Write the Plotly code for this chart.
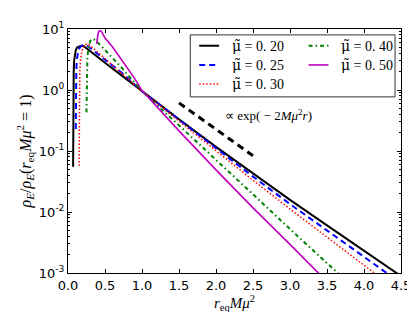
import plotly.graph_objects as go

# ---- data ----
r_020 = [0.069, 0.0705, 0.073, 0.077, 0.083, 0.092, 0.105, 0.125, 0.15, 0.18, 0.21, 0.25, 0.35, 0.5, 0.75, 1.0, 1.5, 2.0, 2.5, 3.0, 3.5, 4.0, 4.5]
rho_020 = [0.055, 0.3, 1.0, 2.0, 3.0, 3.9, 4.5, 5.0, 5.2, 5.3, 5.25, 4.8, 3.9, 2.79, 1.64, 0.955, 0.331, 0.117, 0.0427, 0.0158, 0.00603, 0.00234, 0.00089]

r_025 = [0.105, 0.106, 0.108, 0.112, 0.118, 0.128, 0.14, 0.16, 0.19, 0.22, 0.26, 0.35, 0.5, 0.75, 1.0, 1.5, 2.0, 2.5, 3.0, 3.5, 4.0, 4.4]
rho_025 = [0.23, 0.6, 1.2, 2.0, 3.0, 3.9, 4.5, 5.0, 5.35, 5.45, 5.3, 4.37, 3.16, 1.82, 0.955, 0.324, 0.110, 0.038, 0.0135, 0.0050, 0.00186, 0.00083]

r_030 = [0.15, 0.152, 0.155, 0.16, 0.167, 0.178, 0.195, 0.22, 0.25, 0.28, 0.35, 0.5, 0.75, 1.0, 1.5, 2.0, 2.5, 3.0, 3.5, 4.0, 4.25]
rho_030 = [0.057, 0.3, 1.0, 2.0, 3.0, 4.0, 4.8, 5.4, 5.65, 5.6, 4.71, 3.26, 1.77, 0.955, 0.309, 0.1, 0.0331, 0.0112, 0.00389, 0.00135, 0.00079]

r_040 = [0.249, 0.251, 0.255, 0.262, 0.272, 0.285, 0.30, 0.32, 0.34, 0.37, 0.45, 0.5, 0.6, 0.7, 0.8, 0.9, 1.0, 1.5, 2.0, 2.5, 3.0, 3.5, 3.75]
rho_040 = [0.43, 1.2, 2.2, 3.3, 4.5, 5.6, 6.3, 6.8, 6.85, 6.6, 5.25, 4.57, 3.39, 2.51, 1.82, 1.32, 0.955, 0.263, 0.0724, 0.0195, 0.00525, 0.00145, 0.00076]

r_050 = [0.387, 0.395, 0.405, 0.415, 0.43, 0.45, 0.5, 0.6, 0.7, 0.8, 0.9, 1.0, 1.25, 1.5, 2.0, 2.5, 3.0, 3.5]
rho_050 = [5.7, 7.0, 8.2, 9.0, 9.4, 9.2, 7.1, 5.13, 3.47, 2.34, 1.55, 0.977, 0.457, 0.214, 0.049, 0.0117, 0.00295, 0.00072]

ref_r = [1.5, 2.5]
ref_rho = [0.615, 0.0835]

x_ticks = [0.0, 0.5, 1.0, 1.5, 2.0, 2.5, 3.0, 3.5, 4.0, 4.5]
x_tick_text = ["0.0", "0.5", "1.0", "1.5", "2.0", "2.5", "3.0", "3.5", "4.0", "4.5"]
y_ticks = [0.001, 0.01, 0.1, 1, 10]
y_tick_text = ["10<sup>-3</sup>", "10<sup>-2</sup>", "10<sup>-1</sup>", "10<sup>0</sup>", "10<sup>1</sup>"]

mu_labels = ["0. 20", "0. 25", "0. 30", "0. 40", "0. 50"]

series = [
    (r_020, rho_020, mu_labels[0], "#000000", "solid", 2.0),
    (r_025, rho_025, mu_labels[1], "#0000ff", "6px,4px", 2.0),
    (r_030, rho_030, mu_labels[2], "#ff0000", "1.5px,2px", 1.5),
    (r_040, rho_040, mu_labels[3], "#008000", "4px,3px,1.5px,3px", 2.0),
    (r_050, rho_050, mu_labels[4], "#bf00bf", "solid", 1.6),
]

# plot-area geometry in pixels (for the drawn legend)
W, H = 415, 312
ML, MR, MT, MB = 60, 20, 17, 47
PW, PH = W - ML - MR, H - MT - MB


def px(X):
    return (X - ML) / PW


def py(Y):
    return (H - MB - Y) / PH


fig = go.Figure()
for rr, vv, lab, col, dash, w in series:
    fig.add_trace(go.Scatter(
        x=rr, y=vv, mode="lines", name="μ̃ = " + lab, showlegend=False,
        line=dict(color=col, dash=dash, width=w),
    ))

fig.add_trace(go.Scatter(
    x=ref_r, y=ref_rho, mode="lines", showlegend=False,
    line=dict(color="black", dash="7px,5px", width=3),
))

fig.add_annotation(
    x=2.71, y=-0.41, xref="x", yref="y",
    text="∝ exp( − 2<i>Mμ</i><sup>2</sup><i>r</i>)",
    showarrow=False, font=dict(family="Liberation Serif", size=13, color="black"),
)

MU = '<span style="font-family:DejaVu Serif">μ̃</span>'

# legend box (column-major, two columns like the reference)
fig.add_shape(type="rect", xref="paper", yref="paper",
              x0=px(183), x1=px(389), y0=py(86), y1=py(23),
              line=dict(color="#333", width=1), fillcolor="white", layer="above")
rows_y = [34, 53.5, 73]
slots = [(192, 0), (192, 1), (192, 2), (302, 0), (302, 1)]
for (rr, vv, lab, col, dash, w), (sx, ri) in zip(series, slots):
    yy = rows_y[ri]
    fig.add_shape(type="line", xref="paper", yref="paper",
                  x0=px(sx), x1=px(sx + 20), y0=py(yy), y1=py(yy),
                  line=dict(color=col, dash=dash, width=w), layer="above")
    fig.add_annotation(x=px(sx + 31), y=py(yy), xref="paper", yref="paper",
                       xanchor="left", yanchor="middle", showarrow=False,
                       text=MU + " = " + lab,
                       font=dict(family="Liberation Serif", size=14, color="black"))

axis_common = dict(
    showgrid=False, zeroline=False, showline=True, linecolor="black", linewidth=1,
    mirror="allticks", ticks="inside", ticklen=4, tickcolor="black",
    tickfont=dict(family="DejaVu Sans", size=13, color="black"),
)

fig.update_xaxes(
    range=[0, 4.5], tickvals=x_ticks, ticktext=x_tick_text,
    title=dict(text="<i>r</i><sub>eq</sub><i>Mμ</i><sup>2</sup>",
               font=dict(family="Liberation Serif", size=15, color="black"), standoff=0),
    **axis_common,
)
fig.update_yaxes(
    type="log", range=[-3, 1], tickvals=y_ticks, ticktext=y_tick_text,
    minor=dict(ticks="inside", ticklen=2, tickcolor="black", dtick="D1"),
    title=dict(text="<i>ρ</i><sub><i>E</i></sub>/<i>ρ</i><sub><i>E</i></sub>(<i>r</i><sub>eq</sub><i>Mμ</i><sup>2</sup> = 1)",
               font=dict(family="Liberation Serif", size=16, color="black"), standoff=3),
    **axis_common,
)

fig.update_layout(
    width=W, height=H,
    margin=dict(l=ML, r=MR, t=MT, b=MB),
    plot_bgcolor="white", paper_bgcolor="white",
    showlegend=False,
)

fig.write_html("out.html")
